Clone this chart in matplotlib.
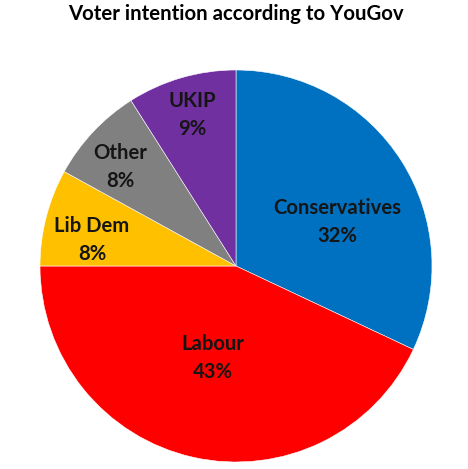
import matplotlib
matplotlib.use("Agg")
import matplotlib.pyplot as plt
import numpy as np

parties = ["Conservatives", "Labour", "Lib Dem", "Other", "UKIP"]
shares = [32, 43, 8, 8, 9]
colors = ["#0070C0", "#FF0000", "#FFC000", "#808080", "#7030A0"]
title = "Voter intention according to YouGov"

# label placement (radius fraction, angle in degrees)
label_r = [0.562, 0.483, 0.747, 0.777, 0.802]
label_ang = [23.5, -104.0, 169.7, 139.6, 106.2]

fig = plt.figure(figsize=(4.68, 4.69), dpi=100)
ax = fig.add_axes([40/468, 7/469, 392/468, 392/469])
wedges, _ = ax.pie(shares, colors=colors, startangle=90, counterclock=False,
                   radius=1, wedgeprops=dict(edgecolor="white", linewidth=0.4))
ax.set_xlim(-1, 1)
ax.set_ylim(-1, 1)
ax.set_aspect("equal")
ax.axis("off")

for name, val, r, a in zip(parties, shares, label_r, label_ang):
    x = r * np.cos(np.radians(a))
    y = r * np.sin(np.radians(a))
    ax.text(x, y, f"{name}\n{val}%", ha="center", va="center",
            fontsize=14.6, fontweight="bold", family="Lato",
            color="#151515", linespacing=1.5)

fig.text(236/468, 1 - 14/469, title, ha="center", va="center",
         fontsize=14.7, fontweight="bold", family="Lato", color="black")

fig.savefig("out.png", dpi=100)
